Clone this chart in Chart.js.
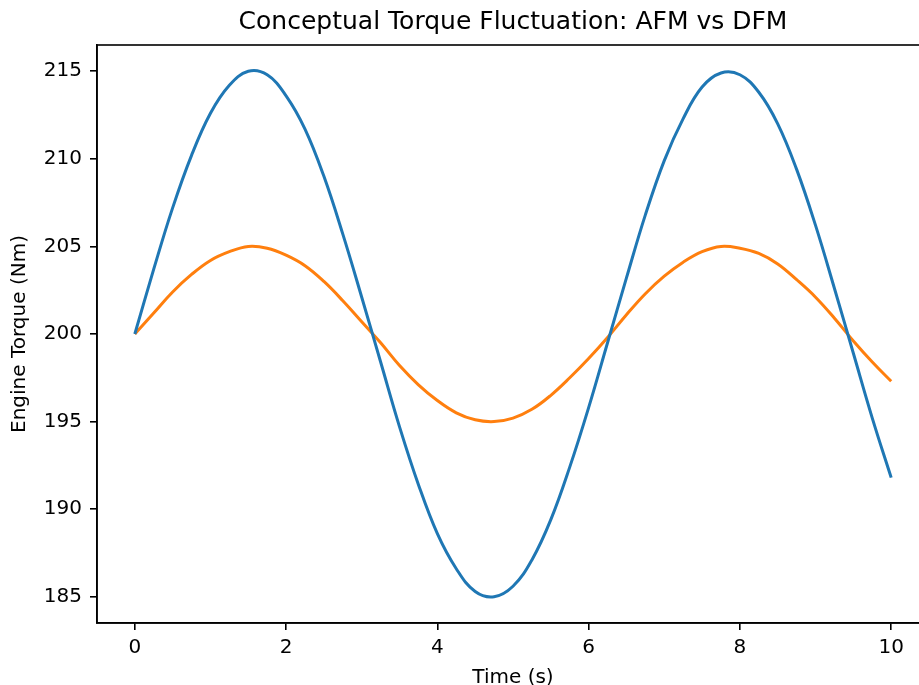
<!DOCTYPE html>
<html>
<head>
<meta charset="utf-8">
<script src="https://cdn.jsdelivr.net/npm/chart.js@4.4.0/dist/chart.umd.min.js"></script>
<style>
  html, body { margin: 0; padding: 0; background: #fff; overflow: hidden; }
  #wrap { width: 919px; height: 685px; overflow: hidden; }
</style>
</head>
<body>
<div id="wrap"><canvas id="torqueChart" width="930" height="690"></canvas></div>
<script>
const times = [0, 0.25, 0.5, 0.75, 1, 1.25, 1.5, 1.75, 2, 2.25, 2.5, 2.75, 3, 3.25, 3.5, 3.75,
  4, 4.25, 4.5, 4.75, 5, 5.25, 5.5, 5.75, 6, 6.25, 6.5, 6.75, 7, 7.25, 7.5, 7.75,
  8, 8.25, 8.5, 8.75, 9, 9.25, 9.5, 9.75, 10];

const afmTorque = [200, 203.7, 207.2, 210.2, 212.6, 214.2, 215.0, 214.8, 213.6, 211.7, 209.0, 205.7,
  202.1, 198.4, 194.7, 191.4, 188.6, 186.6, 185.3, 185.0, 185.6, 187.1, 189.4, 192.4,
  195.8, 199.5, 203.2, 206.8, 209.9, 212.3, 214.1, 214.9, 214.8, 213.8, 212.0, 209.4,
  206.2, 202.6, 198.9, 195.2, 191.8];

const dfmTorque = [200, 201.2, 202.4, 203.4, 204.2, 204.7, 205.0, 204.9, 204.5, 203.9, 203.0, 201.9,
  200.7, 199.5, 198.2, 197.1, 196.2, 195.5, 195.1, 195.0, 195.2, 195.7, 196.5, 197.5,
  198.6, 199.8, 201.1, 202.3, 203.3, 204.1, 204.7, 205.0, 204.9, 204.6, 204.0, 203.1,
  202.1, 200.9, 199.6, 198.4, 197.3];

const xTicks = [0, 2, 4, 6, 8, 10];
const yTicks = [185, 190, 195, 200, 205, 210, 215];

const fontFamily = "'DejaVu Sans', sans-serif";

// draws the top/right spines too (matplotlib box)
const boxPlugin = {
  id: "box",
  afterDraw(chart) {
    const a = chart.chartArea;
    const ctx = chart.ctx;
    ctx.save();
    ctx.strokeStyle = "#000";
    ctx.lineWidth = 1.6;
    ctx.strokeRect(a.left, a.top, a.right - a.left, a.bottom - a.top);
    ctx.restore();
  }
};

function toPoints(ys) {
  return times.map((t, i) => ({ x: t, y: ys[i] }));
}

new Chart("torqueChart", {
  type: "line",
  data: {
    datasets: [
      {
        label: "AFM",
        data: toPoints(afmTorque),
        borderColor: "#1f77b4",
        borderWidth: 3,
        pointRadius: 0,
        tension: 0.4,
        fill: false
      },
      {
        label: "DFM",
        data: toPoints(dfmTorque),
        borderColor: "#ff7f0e",
        borderWidth: 3,
        pointRadius: 0,
        tension: 0.4,
        fill: false
      }
    ]
  },
  options: {
    responsive: false,
    animation: false,
    layout: { padding: { left: 0, right: 1, top: 0, bottom: 0 } },
    plugins: {
      legend: { display: false },
      tooltip: { enabled: false },
      title: {
        display: true,
        fullSize: false,
        text: "Conceptual Torque Fluctuation: AFM vs DFM",
        color: "#000",
        font: { family: fontFamily, size: 25, weight: "normal" },
        padding: { top: 7, bottom: 8 }
      }
    },
    scales: {
      x: {
        type: "linear",
        min: -0.5,
        max: 10.5,
        afterBuildTicks: (scale) => { scale.ticks = xTicks.map(v => ({ value: v })); },
        afterFit: (scale) => { scale.height = 67; },
        grid: { drawOnChartArea: false, drawTicks: true, tickLength: 7, color: "#000", lineWidth: 1.6 },
        border: { color: "#000", width: 1.6 },
        ticks: { color: "#000", font: { family: fontFamily, size: 20 }, padding: 6, maxRotation: 0 },
        title: {
          display: true,
          text: "Time (s)",
          color: "#000",
          font: { family: fontFamily, size: 20 },
          padding: { top: 0, bottom: 0 }
        }
      },
      y: {
        type: "linear",
        min: 183.5,
        max: 216.5,
        afterBuildTicks: (scale) => { scale.ticks = yTicks.map(v => ({ value: v })); },
        afterFit: (scale) => { scale.width = 97; },
        grid: { drawOnChartArea: false, drawTicks: true, tickLength: 7, color: "#000", lineWidth: 1.6 },
        border: { color: "#000", width: 1.6 },
        ticks: { color: "#000", font: { family: fontFamily, size: 20 }, padding: 8 },
        title: {
          display: true,
          text: "Engine Torque (Nm)",
          color: "#000",
          font: { family: fontFamily, size: 20 },
          padding: { top: 8, bottom: 0 }
        }
      }
    }
  },
  plugins: [boxPlugin]
});
</script>
</body>
</html>
